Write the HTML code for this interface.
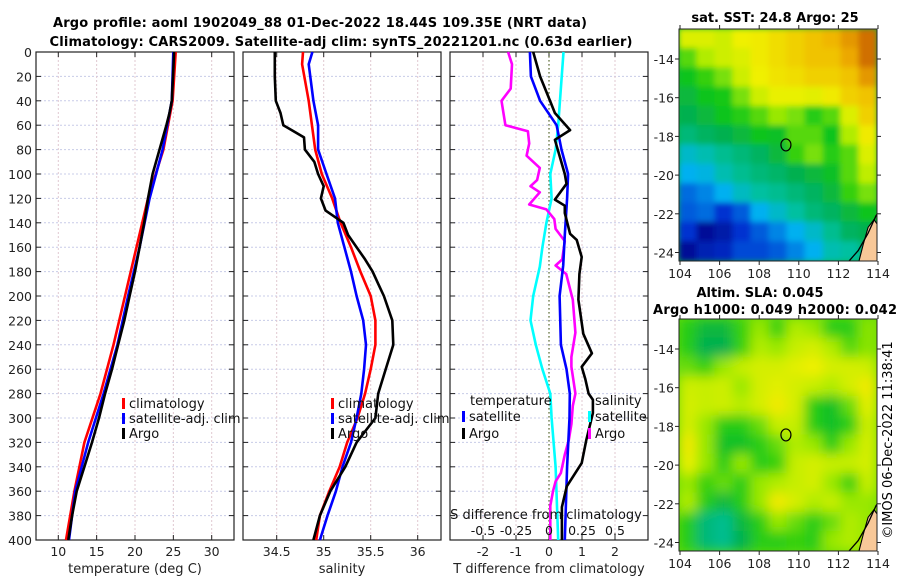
<!DOCTYPE html>
<html><head><meta charset="utf-8"><title>Argo profile</title>
<style>
html,body{margin:0;padding:0;background:#fff;}
svg{display:block;font-family:"DejaVu Sans","Liberation Sans",sans-serif;}
</style></head>
<body>
<svg id="chart" width="900" height="580" viewBox="0 0 900 580" xmlns="http://www.w3.org/2000/svg">
<defs>
<filter id="blur1" x="-5%" y="-5%" width="110%" height="110%"><feGaussianBlur stdDeviation="3"/></filter>
<filter id="blur2" x="-5%" y="-5%" width="110%" height="110%"><feGaussianBlur stdDeviation="6"/></filter>
<clipPath id="clipMap1"><rect x="679" y="29" width="198" height="232"/></clipPath>
<clipPath id="clipMap2"><rect x="679" y="319" width="198" height="232"/></clipPath>
</defs>
<text x="320" y="27" text-anchor="middle" font-size="13" font-weight="bold" textLength="534">Argo profile: aoml 1902049_88 01-Dec-2022 18.44S 109.35E (NRT data)</text>
<text x="341" y="46" text-anchor="middle" font-size="13" font-weight="bold" textLength="583">Climatology: CARS2009. Satellite-adj clim: synTS_20221201.nc (0.63d earlier)</text>
<text x="775" y="22" text-anchor="middle" font-size="13" font-weight="bold">sat. SST: 24.8 Argo: 25</text>
<text x="760" y="297" text-anchor="middle" font-size="13" font-weight="bold">Altim. SLA: 0.045</text>
<text x="775" y="314" text-anchor="middle" font-size="13" font-weight="bold" textLength="244">Argo h1000: 0.049 h2000: 0.042</text>
<text transform="translate(892,440) rotate(-90)" text-anchor="middle" font-size="13">©IMOS 06-Dec-2022 11:38:41</text>
<g id="g"></g>
</svg>
<script>
// ---------- data ----------
const depthTicks = [0,20,40,60,80,100,120,140,160,180,200,220,240,260,280,300,320,340,360,380,400];
const tTicks = [10,15,20,25,30];
const sTicks = [34.5,35,35.5,36];
const dTTicks = [-2,-1,0,1,2];
const dSTicks = [-0.5,-0.25,0,0.25,0.5];
const dSTickLabels = ['-0.5','-0.25','0','0.25','0.5'];
const lonTicks = [104,106,108,110,112,114];
const latTicks = [-14,-16,-18,-20,-22,-24];

const tClimDepth = [0,40,80,120,160,200,240,280,320,360,400];
const tClim      = [25.3,24.9,23.7,21.7,20.2,18.7,17.2,15.5,13.4,12.1,11.0];
const tSat       = [25.0,24.8,23.6,21.9,20.6,19.1,17.7,15.9,13.9,12.2,11.4];
const tArgoDepth = [0,20,40,50,60,80,100,120,140,160,180,200,220,240,260,280,300,320,340,360,380,400];
const tArgo      = [25.1,24.95,24.8,24.5,24.1,23.2,22.3,21.7,21.2,20.6,20.0,19.3,18.6,17.8,17.0,16.1,15.3,14.4,13.4,12.4,11.8,11.3];

const sClimDepth = [0,10,40,80,100,120,140,160,180,200,220,240,260,280,300,320,340,360,380,400];
const sClim      = [34.78,34.77,34.84,34.91,34.98,35.09,35.18,35.29,35.39,35.5,35.55,35.55,35.5,35.44,35.36,35.25,35.17,35.06,34.96,34.92];
const sSatDepth  = [0,10,40,60,80,100,120,140,160,180,200,220,240,260,280,300,320,340,360,380,400];
const sSat       = [34.88,34.84,34.89,34.94,34.94,35.03,35.12,35.15,35.22,35.29,35.35,35.42,35.45,35.43,35.4,35.35,35.29,35.2,35.13,35.04,34.96];
const sArgoDepth = [0,20,40,50,60,65,70,80,90,100,110,120,130,140,150,160,170,180,190,200,220,240,260,280,300,320,340,360,380,400];
const sArgo      = [34.48,34.48,34.49,34.54,34.57,34.68,34.79,34.8,34.9,34.94,35.0,34.97,35.02,35.21,35.26,35.35,35.44,35.52,35.58,35.64,35.73,35.74,35.66,35.58,35.55,35.35,35.23,35.07,34.96,34.89];

const dTSatDepth = [0,20,40,60,80,100,120,150,175,200,240,260,280,300,340,400];
const dTSat      = [-0.58,-0.55,-0.27,0.23,0.38,0.58,0.55,0.48,0.43,0.32,0.36,0.53,0.63,0.62,0.55,0.48];
const dTArgoDepth = [0,20,40,50,64,72,100,108,121,126,132,149,154,168,182,203,231,247,258,268,280,285,296,318,337,356,373,397,400];
const dTArgo      = [-0.48,-0.27,0.03,0.18,0.64,0.18,0.48,0.53,0.18,0.48,0.48,0.64,0.84,0.99,0.92,0.89,1.04,1.3,0.99,1.1,1.2,1.33,1.33,1.13,0.99,0.54,0.39,0.39,0.39];
const dSSatDepth = [0,60,80,100,120,140,160,176,200,220,240,260,280,300,340,400];
const dSSat      = [0.11,0.07,0.05,0.01,0.02,-0.02,-0.05,-0.07,-0.12,-0.14,-0.1,-0.05,0.01,0.02,0.05,0.07];
const dSArgoDepth = [0,10,30,40,60,65,75,85,95,105,110,115,125,129,137,145,155,170,175,182,203,230,250,258,280,290,305,318,330,345,352,360,372,400];
const dSArgo      = [-0.31,-0.28,-0.29,-0.36,-0.33,-0.16,-0.15,-0.17,-0.07,-0.09,-0.14,-0.07,-0.15,-0.02,0.04,0.05,0.12,0.10,0.05,0.13,0.18,0.20,0.17,0.17,0.20,0.18,0.17,0.15,0.12,0.09,0.05,0.03,0.01,0.01];

const sstGrid = [
[0.72,0.72,0.70,0.75,0.76,0.78,0.80,0.82,0.84,0.88,0.93],
[0.60,0.66,0.70,0.72,0.76,0.78,0.80,0.82,0.82,0.86,0.93],
[0.55,0.58,0.62,0.70,0.75,0.77,0.78,0.80,0.80,0.82,0.88],
[0.52,0.55,0.56,0.62,0.70,0.74,0.74,0.73,0.76,0.80,0.82],
[0.50,0.52,0.55,0.57,0.60,0.64,0.62,0.57,0.60,0.72,0.80],
[0.45,0.48,0.50,0.52,0.55,0.54,0.60,0.60,0.55,0.66,0.76],
[0.35,0.38,0.42,0.45,0.48,0.52,0.58,0.62,0.57,0.60,0.72],
[0.30,0.32,0.38,0.42,0.45,0.47,0.50,0.52,0.54,0.60,0.68],
[0.22,0.25,0.30,0.36,0.40,0.42,0.45,0.48,0.52,0.58,0.62],
[0.20,0.22,0.15,0.20,0.30,0.35,0.40,0.45,0.48,0.52,0.55],
[0.15,0.05,0.08,0.15,0.20,0.25,0.30,0.35,0.42,0.48,0.50],
[0.05,0.10,0.12,0.18,0.18,0.20,0.25,0.30,0.38,0.40,0.45]];
const slaGrid = [
[0.57,0.52,0.52,0.58,0.64,0.58,0.66,0.64,0.57,0.57,0.63],
[0.57,0.50,0.50,0.58,0.66,0.64,0.69,0.71,0.66,0.60,0.63],
[0.61,0.58,0.64,0.69,0.71,0.71,0.73,0.75,0.71,0.71,0.70],
[0.70,0.69,0.70,0.64,0.71,0.73,0.71,0.69,0.66,0.71,0.76],
[0.71,0.69,0.70,0.67,0.71,0.76,0.71,0.57,0.54,0.61,0.73],
[0.71,0.64,0.57,0.57,0.61,0.69,0.69,0.57,0.54,0.57,0.70],
[0.76,0.64,0.54,0.54,0.57,0.61,0.66,0.64,0.57,0.64,0.71],
[0.74,0.64,0.57,0.64,0.57,0.58,0.69,0.71,0.69,0.69,0.71],
[0.64,0.58,0.61,0.57,0.64,0.66,0.69,0.71,0.64,0.58,0.69],
[0.66,0.57,0.52,0.57,0.64,0.76,0.71,0.66,0.69,0.64,0.64],
[0.57,0.45,0.42,0.52,0.57,0.64,0.61,0.57,0.61,0.66,0.64],
[0.57,0.45,0.42,0.50,0.57,0.57,0.58,0.57,0.64,0.66,0.64]];
const floatLon = 109.35, floatLat = -18.44;

// ---------- helpers ----------
const NS='http://www.w3.org/2000/svg';
const G=document.getElementById('g');
function mk(tag,attrs,parent){const e=document.createElementNS(NS,tag);for(const k in attrs)e.setAttribute(k,attrs[k]);(parent||G).appendChild(e);return e;}
function txt(s,attrs,parent){const e=mk('text',attrs,parent);e.textContent=s;return e;}
const yD = d => 52 + d*1.22;
const PY0=52, PY1=540;
const panels = [
 {x0:36,x1:234,name:'temperature-panel'},
 {x0:243,x1:441,name:'salinity-panel'},
 {x0:450,x1:648,name:'difference-panel'}];
const xT = v => 58.3 + (v-10)*7.67;
const xS = v => 276.7 + (v-34.5)*94;
const xDT = v => 549 + v*33;
const xDS = v => 549 + v*132;

function panelFrame(p,xs,xfn,labels,axisTitle,showY){
  const pg=mk('g',{});
  
  
  depthTicks.forEach(d=>{const y=yD(d);
    const l=mk('line',{x1:p.x0,x2:p.x1,y1:y,y2:y,stroke:'#c8cce8','stroke-width':1,'stroke-dasharray':'2,2'},pg);
    
    mk('line',{x1:p.x0,x2:p.x0+5,y1:y,y2:y,stroke:'#222'},pg);
    mk('line',{x1:p.x1-5,x2:p.x1,y1:y,y2:y,stroke:'#222'},pg);
    if(showY){const t=txt(String(d),{x:p.x0-4,y:y+5,'text-anchor':'end','font-size':12.5,fill:'#222'},pg);
      }
  });
  xs.forEach((v,i)=>{const x=xfn(v);
    const l=mk('line',{x1:x,x2:x,y1:PY0,y2:PY1,stroke:'#e0c8d0','stroke-width':1,'stroke-dasharray':'2,2'},pg);
    
    mk('line',{x1:x,x2:x,y1:PY1,y2:PY1-5,stroke:'#222'},pg);
    mk('line',{x1:x,x2:x,y1:PY0,y2:PY0+5,stroke:'#222'},pg);
    const t=txt(labels[i],{x:x,y:556,'text-anchor':'middle','font-size':12.5,fill:'#222'},pg);
    
  });
  const r=mk('rect',{x:p.x0,y:PY0,width:p.x1-p.x0,height:PY1-PY0,fill:'none',stroke:'#222','stroke-width':1.2},pg);
  
  const at=txt(axisTitle,{x:(p.x0+p.x1)/2,y:573,'text-anchor':'middle','font-size':13,fill:'#222'},pg);
  
  return pg;
}
function series(vals,depths,xfn,color,name,parent){
  const pts=vals.map((v,i)=>xfn(v).toFixed(1)+','+yD(depths[i]).toFixed(1)).join(' ');
  const e=mk('polyline',{points:pts,fill:'none',stroke:color,'stroke-width':2.6,'stroke-linejoin':'round'},parent);
  
  
}
function legendEntry(x,y,color,label,name,parent){
  const g=mk('g',{},parent);
  
  
  mk('rect',{x:x,y:y-10,width:3,height:11,fill:color},g);
  txt(label,{x:x+7,y:y,'font-size':13,fill:'#111'},g);
}

const p1=panelFrame(panels[0],tTicks,xT,tTicks.map(String),'temperature (deg C)',true);
series(tClim,tClimDepth,xT,'#ff0000','temperature-climatology-line',p1);
series(tSat,tClimDepth,xT,'#0000ff','temperature-satellite-line',p1);
series(tArgo,tArgoDepth,xT,'#000000','temperature-argo-line',p1);
legendEntry(122,408,'#ff0000','climatology','legend-climatology',p1);
legendEntry(122,423,'#0000ff','satellite-adj. clim','legend-satellite-adj',p1);
legendEntry(122,438,'#000000','Argo','legend-argo',p1);

const p2=panelFrame(panels[1],sTicks,xS,sTicks.map(String),'salinity',false);
series(sClim,sClimDepth,xS,'#ff0000','salinity-climatology-line',p2);
series(sSat,sSatDepth,xS,'#0000ff','salinity-satellite-line',p2);
series(sArgo,sArgoDepth,xS,'#000000','salinity-argo-line',p2);
legendEntry(331,408,'#ff0000','climatology','legend-climatology-s',p2);
legendEntry(331,423,'#0000ff','satellite-adj. clim','legend-satellite-adj-s',p2);
legendEntry(331,438,'#000000','Argo','legend-argo-s',p2);

const p3=panelFrame(panels[2],dTTicks,xDT,dTTicks.map(String),'T difference from climatology',false);
const zl=mk('line',{x1:xDT(0),x2:xDT(0),y1:PY0,y2:PY1,stroke:'#556b2f','stroke-width':1.2,'stroke-dasharray':'1.5,2.5'},p3);

series(dSSat,dSSatDepth,xDS,'#00ffff','salinity-satellite-diff-line',p3);
series(dSArgo,dSArgoDepth,xDS,'#ff00ff','salinity-argo-diff-line',p3);
series(dTSat,dTSatDepth,xDT,'#0000ff','temperature-satellite-diff-line',p3);
series(dTArgo,dTArgoDepth,xDT,'#000000','temperature-argo-diff-line',p3);
const lt=txt('temperature',{x:470,y:405,'font-size':13,fill:'#111'},p3);

legendEntry(462,421,'#0000ff','satellite','legend-t-satellite',p3);
legendEntry(462,438,'#000000','Argo','legend-t-argo',p3);
const ls=txt('salinity',{x:595,y:405,'font-size':13,fill:'#111'},p3);

legendEntry(588,421,'#00ffff','satellite','legend-s-satellite',p3);
legendEntry(588,438,'#ff00ff','Argo','legend-s-argo',p3);
const st=txt('S difference from climatology',{x:546,y:519,'text-anchor':'middle','font-size':13,fill:'#111'},p3);

dSTicks.forEach((v,i)=>{const t=txt(dSTickLabels[i],{x:xDS(v),y:535,'text-anchor':'middle','font-size':12.5,fill:'#111'},p3);
  });

// ---------- maps ----------
const stops=[[0,[0,0,122]],[0.15,[0,48,208]],[0.3,[0,176,240]],[0.4,[0,192,160]],[0.5,[0,176,80]],[0.56,[20,200,20]],[0.65,[170,236,0]],[0.75,[240,240,0]],[0.85,[240,176,0]],[0.95,[200,96,0]],[1,[180,70,0]]];
function cmap(v){for(let i=1;i<stops.length;i++){if(v<=stops[i][0]){const a=stops[i-1],b=stops[i];const f=(v-a[0])/(b[0]-a[0]);
  const c=a[1].map((x,k)=>Math.round(x+(b[1][k]-x)*f));return 'rgb('+c.join(',')+')';}}return 'rgb(180,70,0)';}
const MX0=679,MX1=877,MW=198,MH=232;
const xLon = lon => 680 + (lon-104)*19.8;
function drawMap(grid,y0,name,blurId){
  const mg=mk('g',{});
  
  
  const yLat = lat => y0+30 + (-14-lat)*19.35;
  const cg=mk('g',{'clip-path':'url(#'+(y0<100?'clipMap1':'clipMap2')+')'},mg);
  mk('rect',{x:MX0,y:y0,width:MW,height:MH,fill:cmap(grid[6][5])},cg);
  const hg=mk('g',{filter:'url(#'+blurId+')'},cg);
  const rows=grid.length, cols=grid[0].length, cw=MW/cols, ch=MH/rows;
  grid.forEach((row,r)=>row.forEach((v,c)=>{
    const e=mk('rect',{x:(MX0+c*cw-0.5).toFixed(1),y:(y0+r*ch-0.5).toFixed(1),width:(cw+1).toFixed(1),height:(ch+1).toFixed(1),fill:cmap(v)},hg);
    
    
  }));
  const land=[[113.0,-24.6],[113.25,-23.6],[113.5,-22.7],[113.8,-22.3],[114.0,-22.6],[114.3,-21.9],[114.8,-21.8],[114.8,-24.6]];
  const lp=mk('polygon',{points:land.map(p=>xLon(p[0])+','+yLat(p[1])).join(' '),fill:'#f8c898',stroke:'#000','stroke-width':1.1},cg);
  
  const coast=[[112.4,-24.6],[113.0,-23.9],[113.5,-23.0],[113.9,-22.1],[114.3,-21.5],[114.8,-21.3]];
  const cl=mk('polyline',{points:coast.map(p=>xLon(p[0])+','+yLat(p[1])).join(' '),fill:'none',stroke:'#000','stroke-width':1.3},cg);
  
  const fm=mk('ellipse',{cx:xLon(floatLon),cy:yLat(floatLat),rx:5,ry:6,fill:'none',stroke:'#000','stroke-width':1.2},mg);
  
  const fr=mk('rect',{x:MX0,y:y0,width:MW,height:MH,fill:'none',stroke:'#222','stroke-width':1},mg);
  
  lonTicks.forEach(l=>{const x=xLon(l);
    mk('line',{x1:x,x2:x,y1:y0+MH,y2:y0+MH+4,stroke:'#222'},mg);
    mk('line',{x1:x,x2:x,y1:y0,y2:y0-4,stroke:'#222'},mg);
    const t=txt(String(l),{x:x,y:y0+MH+17,'text-anchor':'middle','font-size':12.5,fill:'#222'},mg);
    });
  latTicks.forEach(l=>{const y=yLat(l);
    mk('line',{x1:MX0-4,x2:MX0,y1:y,y2:y,stroke:'#222'},mg);
    mk('line',{x1:MX1,x2:MX1+4,y1:y,y2:y,stroke:'#222'},mg);
    const t=txt(String(l),{x:MX0-5,y:y+5,'text-anchor':'end','font-size':12.5,fill:'#222'},mg);
    });
}
drawMap(sstGrid,29,'sst-map','blur1');
drawMap(slaGrid,319,'sla-map','blur2');
</script>
</body></html>
